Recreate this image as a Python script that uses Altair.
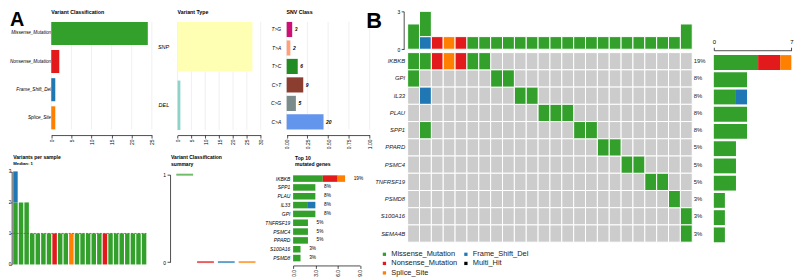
import altair as alt
import pandas as pd

W, H = 795, 269
OFF = 8


def px(v):
    return v - OFF


FONT = "Liberation Sans"

VC_ALL = ["Missense_Mutation", "Nonsense_Mutation", "Frame_Shift_Del", "Splice_Site", "Multi_Hit"]
VC_COLORS = ["#33A02C", "#E31A1C", "#1F78B4", "#FF7F00", "#000000"]

# ---------------- data ----------------
vc_classes = ["Missense_Mutation", "Nonsense_Mutation", "Frame_Shift_Del", "Splice_Site"]
vc_counts = [24, 2, 1, 1]
vc_ticks = [0, 5, 10, 15, 20, 25]

vt_types = ["SNP", "DEL"]
vt_counts = [27, 1]
vt_colors = ["#FFFFB3", "#8DD3C7"]
vt_ticks = [0, 5, 10, 15, 20, 25, 30]

snv_classes = ["T>G", "T>A", "T>C", "C>T", "C>G", "C>A"]
snv_counts = [3, 2, 6, 9, 5, 20]
snv_colors = ["#CD1076", "#FFA07A", "#228B22", "#8B3E2F", "#7A8B8B", "#6495ED"]
snv_ticks = [0, 0.25, 0.5, 0.75, 1.0]

samples = [f"S{i}" for i in range(1, 25)]
vps_missense = [2, 2, 2, 1, 1, 1, 1, 0, 1, 1, 0, 1, 1, 1, 1, 1, 0, 1, 1, 1, 1, 1, 1, 1]
vps_nonsense = [0, 0, 0, 0, 0, 0, 0, 1, 0, 0, 0, 0, 0, 0, 0, 0, 1, 0, 0, 0, 0, 0, 0, 0]
vps_frameshift = [1, 0, 0, 0, 0, 0, 0, 0, 0, 0, 0, 0, 0, 0, 0, 0, 0, 0, 0, 0, 0, 0, 0, 0]
vps_splice = [0, 0, 0, 0, 0, 0, 0, 0, 0, 0, 1, 0, 0, 0, 0, 0, 0, 0, 0, 0, 0, 0, 0, 0]
vps_median = [1]

summary_medians = [1, 0, 0, 0]

top_genes = ["IKBKB", "SPP1", "PLAU", "IL33", "GPI", "TNFRSF19", "PSMC4", "PPARD", "S100A16", "PSMD8"]
top_missense = [4, 3, 3, 2, 3, 2, 2, 2, 1, 1]
top_nonsense = [2, 0, 0, 0, 0, 0, 0, 0, 0, 0]
top_splice = [1, 0, 0, 0, 0, 0, 0, 0, 0, 0]
top_frameshift = [0, 0, 0, 1, 0, 0, 0, 0, 0, 0]
top_pct = ["19%", "8%", "8%", "8%", "8%", "5%", "5%", "5%", "3%", "3%"]

onco_genes = ["IKBKB", "GPI", "IL33", "PLAU", "SPP1", "PPARD", "PSMC4", "TNFRSF19", "PSMD8", "S100A16", "SEMA4B"]
onco_pct = ["19%", "8%", "8%", "8%", "8%", "5%", "5%", "5%", "3%", "3%", "3%"]
cell_gene = ["IKBKB"] * 7 + ["GPI"] * 3 + ["IL33"] * 3 + ["PLAU"] * 3 + ["SPP1"] * 3 + \
    ["PPARD"] * 2 + ["PSMC4"] * 2 + ["TNFRSF19"] * 2 + ["PSMD8", "S100A16", "SEMA4B"]
cell_col = [1, 2, 3, 4, 5, 6, 7, 1, 8, 9, 2, 10, 11, 12, 13, 14, 2, 15, 16,
            17, 18, 19, 20, 21, 22, 23, 24, 24]
cell_cls = ["Missense_Mutation", "Missense_Mutation", "Nonsense_Mutation", "Splice_Site",
            "Nonsense_Mutation", "Missense_Mutation", "Missense_Mutation",
            "Missense_Mutation", "Missense_Mutation", "Missense_Mutation",
            "Frame_Shift_Del", "Missense_Mutation", "Missense_Mutation",
            "Missense_Mutation", "Missense_Mutation", "Missense_Mutation",
            "Missense_Mutation", "Missense_Mutation", "Missense_Mutation",
            "Missense_Mutation", "Missense_Mutation", "Missense_Mutation", "Missense_Mutation",
            "Missense_Mutation", "Missense_Mutation", "Missense_Mutation", "Missense_Mutation",
            "Missense_Mutation"]

# ---------------- helpers ----------------
vc_color = alt.Color("cls:N", scale=alt.Scale(domain=VC_ALL, range=VC_COLORS), legend=None)


def xaxis_bottom(y_ref, values, fmt=None, size=5):
    kw = dict(orient="bottom", offset=px(y_ref) - H, values=values, labelAngle=270,
              tickSize=3, labelPadding=1, labelFontSize=size, title=None,
              domainWidth=0.7, tickWidth=0.7, labelFlush=False, labelOverlap=False)
    if fmt:
        kw["format"] = fmt
    return alt.Axis(**kw)


def yaxis_labels(x_ref, size, pad, italic=True, color="black"):
    return alt.Axis(orient="left", offset=-px(x_ref), domain=False, ticks=False,
                    labelPadding=pad, labelFontSize=size, labelFontStyle="italic" if italic else "normal",
                    labelColor=color, title=None, labelOverlap=False)


def yaxis_num(x_ref, values, tick=3, pad=1, size=5):
    return alt.Axis(orient="left", offset=-px(x_ref), values=values, tickSize=tick, format="d",
                    labelPadding=pad, labelFontSize=size, title=None, domainWidth=0.7,
                    tickWidth=0.7, labelFlush=False, labelOverlap=False)


def label(txt, x, y, size, weight="normal", style="normal", align="left"):
    return alt.Chart(alt.Data(values=[{}])).mark_text(
        text=txt, fontSize=size, fontWeight=weight, fontStyle=style, align=align,
        baseline="alphabetic", font=FONT, color="black"
    ).encode(x=alt.value(px(x)), y=alt.value(px(y)))


def gridlines(ticks, first, last, cats):
    df = pd.DataFrame({"v": ticks, "a": [first] * len(ticks), "b": [last] * len(ticks)})
    return alt.Chart(df).mark_rule(color="#E6E6E6", strokeWidth=0.6).encode(
        x=alt.X("v:Q"),
        y=alt.Y("a:N", sort=cats, bandPosition=0),
        y2=alt.Y2("b:N", bandPosition=1),
    )


# ---------------- Panel A: Variant Classification ----------------
df_vc = pd.DataFrame({"cls": vc_classes, "n": vc_counts})
p_vc = alt.layer(
    gridlines(vc_ticks, vc_classes[0], vc_classes[-1], vc_classes),
    alt.Chart(df_vc).mark_bar().encode(
        x=alt.X("n:Q", scale=alt.Scale(domain=[0, 25], range=[px(51.7), px(153.3)], nice=False),
                axis=xaxis_bottom(135, vc_ticks)),
        y=alt.Y("cls:N", sort=vc_classes,
                scale=alt.Scale(domain=vc_classes, range=[px(18.1), px(131.8)], paddingInner=0.18, paddingOuter=0.09),
                axis=yaxis_labels(51.7, 4.7, 0.6)),
        color=vc_color,
    ),
)

# ---------------- Variant Type ----------------
df_vt = pd.DataFrame({"t": vt_types, "n": vt_counts})
p_vt = alt.layer(
    gridlines(vt_ticks, vt_types[0], vt_types[-1], vt_types),
    alt.Chart(df_vt).mark_bar().encode(
        x=alt.X("n:Q", scale=alt.Scale(domain=[0, 30], range=[px(179.3), px(263.3)], nice=False),
                axis=xaxis_bottom(135, vt_ticks)),
        y=alt.Y("t:N", sort=vt_types,
                scale=alt.Scale(domain=vt_types, range=[px(16), px(134.6)], paddingInner=0.157, paddingOuter=0.08),
                axis=yaxis_labels(179.3, 5.5, 9)),
        color=alt.Color("t:N", scale=alt.Scale(domain=vt_types, range=vt_colors), legend=None),
    ),
)

# ---------------- SNV Class ----------------
snv_total = sum(snv_counts)
df_snv = pd.DataFrame({"c": snv_classes, "n": snv_counts})
snv_x = alt.X("frac:Q", scale=alt.Scale(domain=[0, 1], range=[px(289.5), px(373.3)], nice=False),
              axis=xaxis_bottom(135, snv_ticks, fmt=".2f"))
snv_y = alt.Y("c:N", sort=snv_classes,
              scale=alt.Scale(domain=snv_classes, range=[px(19.0), px(131.0)], paddingInner=0.18, paddingOuter=0.09),
              axis=yaxis_labels(289.5, 5.0, 6, italic=True))
snv_base = alt.Chart(df_snv).transform_calculate(frac=f"datum.n / {snv_total}")
p_snv = alt.layer(
    gridlines(snv_ticks, snv_classes[0], snv_classes[-1], snv_classes),
    snv_base.mark_bar().encode(
        x=snv_x, y=snv_y,
        color=alt.Color("c:N", scale=alt.Scale(domain=snv_classes, range=snv_colors), legend=None)),
    snv_base.mark_text(align="left", baseline="middle", dx=2.6, fontSize=5, fontWeight="bold",
                       fontStyle="italic", font=FONT, color="black").encode(
        x=alt.X("frac:Q"), y=alt.Y("c:N", sort=snv_classes), text="n:Q"),
)

# ---------------- Variants per sample ----------------
rows = []
order_vps = {"Missense_Mutation": 0, "Nonsense_Mutation": 1, "Splice_Site": 2, "Frame_Shift_Del": 3}
for i, s in enumerate(samples):
    for cls, arr in [("Missense_Mutation", vps_missense), ("Nonsense_Mutation", vps_nonsense),
                     ("Splice_Site", vps_splice), ("Frame_Shift_Del", vps_frameshift)]:
        if arr[i] > 0:
            rows.append({"s": s, "cls": cls, "n": arr[i], "ord": order_vps[cls]})
df_vps = pd.DataFrame(rows)
vps_xscale = alt.Scale(domain=samples, range=[px(12.7), px(148.3)], paddingInner=0.2, paddingOuter=0.1)
vps_yscale = alt.Scale(domain=[0, 3], range=[px(265.7), px(171.7)], nice=False)
p_vps = alt.layer(
    alt.Chart(df_vps).mark_bar().encode(
        x=alt.X("s:N", sort=samples, scale=vps_xscale, axis=None),
        y=alt.Y("n:Q", stack="zero", scale=vps_yscale,
                axis=yaxis_num(11.7, [0, 1, 2, 3], tick=1, pad=0, size=4.6)),
        color=vc_color,
        order=alt.Order("ord:Q"),
    ),
    alt.Chart(pd.DataFrame({"a": [samples[0]], "b": [samples[-1]], "m": vps_median})).mark_rule(
        color="#C0392B", strokeDash=[2, 1.5], strokeWidth=0.8).encode(
        x=alt.X("a:N", sort=samples, bandPosition=0),
        x2=alt.X2("b:N", bandPosition=1),
        y=alt.Y("m:Q"),
    ),
)

# ---------------- Variant classification summary ----------------
df_sum = pd.DataFrame({"cls": vc_classes, "med": summary_medians})
p_sum = alt.Chart(df_sum).mark_tick(thickness=2, size=17).encode(
    x=alt.X("cls:N", sort=vc_classes,
            scale=alt.Scale(domain=vc_classes, range=[px(176), px(260)], paddingInner=0.19, paddingOuter=0.095),
            axis=None),
    y=alt.Y("med:Q", scale=alt.Scale(domain=[0, 1], range=[px(263.3), px(175)], nice=False),
            axis=yaxis_num(171.7, [0, 1], tick=3, pad=1.5)),
    color=vc_color,
)

# ---------------- Top 10 mutated genes ----------------
rows = []
order_top = {"Missense_Mutation": 0, "Nonsense_Mutation": 1, "Splice_Site": 2, "Frame_Shift_Del": 3}
for i, g in enumerate(top_genes):
    for cls, arr in [("Missense_Mutation", top_missense), ("Nonsense_Mutation", top_nonsense),
                     ("Splice_Site", top_splice), ("Frame_Shift_Del", top_frameshift)]:
        if arr[i] > 0:
            rows.append({"g": g, "cls": cls, "n": arr[i], "ord": order_top[cls]})
df_top = pd.DataFrame(rows)
df_top_lab = pd.DataFrame({"g": top_genes, "pct": top_pct,
                           "tot": [a + b + c + d for a, b, c, d in zip(top_missense, top_nonsense, top_splice, top_frameshift)]})
top_x = alt.Scale(domain=[0, 9], range=[px(296), px(363.5)], nice=False)
top_y = alt.Scale(domain=top_genes, range=[px(174.5), px(263.7)], paddingInner=0.26, paddingOuter=0.13)
p_top = alt.layer(
    alt.Chart(df_top).mark_bar().encode(
        x=alt.X("n:Q", stack="zero", scale=top_x, axis=xaxis_bottom(266.7, [0, 3, 6, 9])),
        y=alt.Y("g:N", sort=top_genes, scale=top_y, axis=yaxis_labels(296, 5.0, 3.3)),
        color=vc_color,
        order=alt.Order("ord:Q"),
    ),
    alt.Chart(df_top_lab).mark_text(align="left", baseline="middle", dx=8.7, fontSize=4.8,
                                    font=FONT, color="black").encode(
        x=alt.X("tot:Q"), y=alt.Y("g:N", sort=top_genes), text="pct:N"),
)

# ---------------- Panel B: oncoplot ----------------
df_bg = pd.DataFrame([{"s": s, "g": g} for g in onco_genes for s in samples])
df_cells = pd.DataFrame({"g": cell_gene, "s": [samples[c - 1] for c in cell_col], "cls": cell_cls})
df_pct = pd.DataFrame({"g": onco_genes, "pct": onco_pct})

grid_x = alt.Scale(domain=samples, range=[px(411.7), px(699.2)], paddingInner=0, paddingOuter=0)
grid_y = alt.Scale(domain=onco_genes, range=[px(51.7), px(243.2)], paddingInner=0, paddingOuter=0)
# legend entries fill column by column (3 rows x 2 columns)
legend_order = ["Missense_Mutation", "Nonsense_Mutation", "Splice_Site", "Frame_Shift_Del", "Multi_Hit"]
legend_colors = ["#33A02C", "#E31A1C", "#FF7F00", "#1F78B4", "#000000"]

p_grid = alt.layer(
    alt.Chart(df_bg).mark_rect(fill="#CCCCCC", stroke="white", strokeWidth=1).encode(
        x=alt.X("s:N", sort=samples, scale=grid_x, axis=None),
        y=alt.Y("g:N", sort=onco_genes, scale=grid_y, axis=yaxis_labels(411.7, 6, 3, color="#222222")),
    ),
    alt.Chart(df_cells).mark_rect(stroke="white", strokeWidth=1).encode(
        x=alt.X("s:N", sort=samples),
        y=alt.Y("g:N", sort=onco_genes),
        color=alt.Color("cls:N", scale=alt.Scale(domain=legend_order, range=legend_colors),
                        legend=alt.Legend(orient="none", legendX=px(384.5), legendY=px(251.3), columns=2,
                                          symbolType="square", symbolSize=11, symbolStrokeWidth=0,
                                          labelFont=FONT, labelFontSize=7.5, labelColor="#222222",
                                          labelOffset=3.2, columnPadding=4.3, rowPadding=0.6,
                                          padding=0, title=None)),
    ),
    alt.Chart(df_pct).mark_text(align="left", baseline="middle", fontSize=6, font=FONT,
                                color="#222222").encode(
        x=alt.value(px(700.7)), y=alt.Y("g:N", sort=onco_genes), text="pct:N"),
)

# top bar (mutations per sample)
top_order = {"Frame_Shift_Del": 0, "Missense_Mutation": 1, "Nonsense_Mutation": 2, "Splice_Site": 3}
df_colbar = df_cells.groupby(["s", "cls"], as_index=False).size().rename(columns={"size": "n"})
df_colbar["ord"] = df_colbar["cls"].map(top_order)
p_colbar = alt.Chart(df_colbar).mark_bar(stroke="white", strokeWidth=1).encode(
    x=alt.X("s:N", sort=samples, scale=grid_x, axis=None),
    y=alt.Y("n:Q", stack="zero", scale=alt.Scale(domain=[0, 3], range=[px(48.3), px(10)], nice=False),
            axis=yaxis_num(407.7, [0, 3], tick=2.5, pad=1.5, size=5)),
    color=vc_color,
    order=alt.Order("ord:Q"),
)

# right bar (mutations per gene)
right_order = {"Missense_Mutation": 0, "Nonsense_Mutation": 1, "Splice_Site": 2, "Frame_Shift_Del": 3}
df_genebar = df_cells.groupby(["g", "cls"], as_index=False).size().rename(columns={"size": "n"})
df_genebar["ord"] = df_genebar["cls"].map(right_order)
p_genebar = alt.Chart(df_genebar).mark_bar().encode(
    x=alt.X("n:Q", stack="zero", scale=alt.Scale(domain=[0, 7], range=[px(721), px(799.3)], nice=False),
            axis=alt.Axis(orient="top", offset=-px(49.3), values=[0, 7], tickSize=3, labelPadding=2.5,
                          labelFontSize=6, title=None, domainWidth=0.7, tickWidth=0.7,
                          labelFlush=False, labelOverlap=False)),
    y=alt.Y("g:N", sort=onco_genes,
            scale=alt.Scale(domain=onco_genes, range=[px(53.0), px(244.5)], paddingInner=0.14, paddingOuter=0.07),
            axis=None),
    color=vc_color,
    order=alt.Order("ord:Q"),
)

# ---------------- titles ----------------
titles = [
    label("A", 10, 25, 20, weight="bold"),
    label("B", 370, 26.5, 22, weight="bold"),
    label("Variant Classification", 51.7, 12.3, 5.3, weight="bold"),
    label("Variant Type", 179.3, 12.3, 5.3, weight="bold"),
    label("SNV Class", 289.3, 12.3, 5.3, weight="bold"),
    label("Variants per sample", 13.3, 159.5, 5.1, weight="bold"),
    label("Median: 1", 13.3, 165.6, 4.3, weight="bold"),
    label("Variant Classification", 172.7, 159.5, 5.1, weight="bold"),
    label("summary", 172.7, 165.9, 5.1, weight="bold"),
    label("Top 10", 298, 160.6, 5.1, weight="bold"),
    label("mutated genes", 298, 166.2, 5.1, weight="bold"),
]

chart = alt.layer(
    p_vc, p_vt, p_snv, p_vps, p_sum, p_top, p_grid, p_colbar, p_genebar, *titles
).resolve_scale(
    x="independent", y="independent", color="independent"
).properties(
    width=W, height=H, padding=0, autosize="none"
).configure_axis(
    grid=False, labelFont=FONT, labelColor="black", domainColor="black", tickColor="black"
).configure_view(stroke=None)

chart.save("out.html", embed_options={"renderer": "svg", "actions": False})
